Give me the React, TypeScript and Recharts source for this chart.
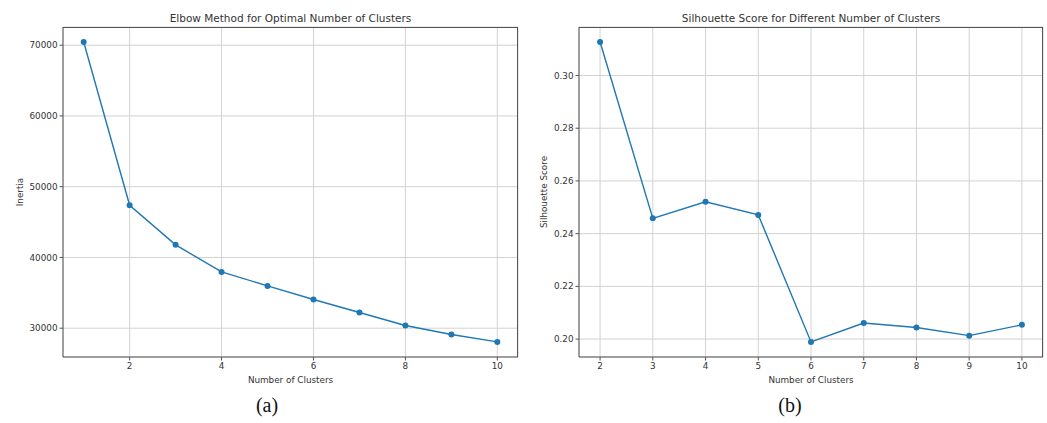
import { CartesianGrid, Line, LineChart, XAxis, YAxis } from 'recharts'

const elbowK = [1, 2, 3, 4, 5, 6, 7, 8, 9, 10]
const inertia = [70450, 47370, 41780, 37960, 35980, 34060, 32220, 30380, 29110, 28060]
const elbowXTicks = [2, 4, 6, 8, 10]
const elbowYTicks = [30000, 40000, 50000, 60000, 70000]

const silK = [2, 3, 4, 5, 6, 7, 8, 9, 10]
const silhouette = [0.3127, 0.2458, 0.2521, 0.2471, 0.1989, 0.2061, 0.2044, 0.2013, 0.2054]
const silXTicks = [2, 3, 4, 5, 6, 7, 8, 9, 10]
const silYTicks = [0.2, 0.22, 0.24, 0.26, 0.28, 0.3]

const blue = '#1f77b4'
const ink = '#333333'
const spine = '#555555'
const sans = '"DejaVu Sans", sans-serif'
const tickStyle = { fontSize: 8.8, fill: ink, fontFamily: sans }

interface PanelProps {
  left: number
  width: number
  plotLeft: number
  plotRight: number
  data: { k: number; v: number }[]
  xDomain: [number, number]
  yDomain: [number, number]
  xTicks: number[]
  yTicks: number[]
  yFormat?: (v: number) => string
  title: string
  yLabel: string
  yLabelX: number
  caption: string
  captionX: number
}

function Panel(p: PanelProps) {
  const top = 27
  const bottom = 357
  const plotCenter = (p.plotLeft + p.plotRight) / 2
  return (
    <>
      <div style={{ position: 'absolute', left: p.left, top: 0 }}>
        <LineChart
          width={p.width}
          height={423}
          data={p.data}
          margin={{ top, right: p.width - (p.plotRight - p.left), left: 0, bottom: 423 - bottom - 30 }}
        >
          <CartesianGrid stroke="#d2d2d2" strokeWidth={1} />
          <XAxis
            dataKey="k"
            type="number"
            domain={p.xDomain}
            ticks={p.xTicks}
            allowDataOverflow
            height={30}
            tick={tickStyle}
            tickSize={3.5}
            tickLine={{ stroke: spine }}
            axisLine={{ stroke: spine }}
          />
          <YAxis
            type="number"
            domain={p.yDomain}
            ticks={p.yTicks}
            allowDataOverflow
            width={p.plotLeft - p.left}
            tick={tickStyle}
            tickSize={3.5}
            tickFormatter={p.yFormat}
            tickLine={{ stroke: spine }}
            axisLine={{ stroke: spine }}
          />
          <Line
            dataKey="v"
            stroke={blue}
            strokeWidth={1.4}
            dot={{ r: 3, fill: blue, stroke: blue, strokeWidth: 0 }}
            isAnimationActive={false}
          />
        </LineChart>
      </div>
      {/* top and right spines of the axes box */}
      <div
        style={{
          position: 'absolute',
          left: p.plotLeft,
          top: top,
          width: p.plotRight - p.plotLeft,
          height: bottom - top,
          borderTop: `1px solid ${spine}`,
          borderRight: `1px solid ${spine}`,
          boxSizing: 'border-box',
          pointerEvents: 'none',
        }}
      />
      <div style={{ position: 'absolute', left: plotCenter, top: 18, transform: 'translate(-50%, -50%)', fontFamily: sans, fontSize: 10.5, color: ink, whiteSpace: 'nowrap' }}>
        {p.title}
      </div>
      <div style={{ position: 'absolute', left: plotCenter, top: 380, transform: 'translate(-50%, -50%)', fontFamily: sans, fontSize: 8.8, color: ink, whiteSpace: 'nowrap' }}>
        Number of Clusters
      </div>
      <div style={{ position: 'absolute', left: p.yLabelX, top: (top + bottom) / 2, transform: 'translate(-50%, -50%) rotate(-90deg)', fontFamily: sans, fontSize: 8.8, color: ink, whiteSpace: 'nowrap' }}>
        {p.yLabel}
      </div>
      <div style={{ position: 'absolute', left: p.captionX, top: 405, transform: 'translate(-50%, -50%)', fontFamily: '"Liberation Serif", serif', fontSize: 20, color: '#111', whiteSpace: 'nowrap' }}>
        {p.caption}
      </div>
    </>
  )
}

export default function App() {
  const elbowData = elbowK.map((k, i) => ({ k, v: inertia[i] }))
  const silData = silK.map((k, i) => ({ k, v: silhouette[i] }))
  return (
    <div style={{ position: 'absolute', left: 0, top: 0, width: 1047, height: 423, background: '#fff', overflow: 'hidden' }}>
      <Panel
        left={0}
        width={530}
        plotLeft={63}
        plotRight={518}
        data={elbowData}
        xDomain={[0.55, 10.45]}
        yDomain={[25930, 72570]}
        xTicks={elbowXTicks}
        yTicks={elbowYTicks}
        title="Elbow Method for Optimal Number of Clusters"
        yLabel="Inertia"
        yLabelX={20}
        caption="(a)"
        captionX={267}
      />
      <Panel
        left={530}
        width={517}
        plotLeft={579}
        plotRight={1043}
        data={silData}
        xDomain={[1.6, 10.4]}
        yDomain={[0.1932, 0.3184]}
        xTicks={silXTicks}
        yTicks={silYTicks}
        yFormat={(v: number) => v.toFixed(2)}
        title="Silhouette Score for Different Number of Clusters"
        yLabel="Silhouette Score"
        yLabelX={544}
        caption="(b)"
        captionX={790}
      />
    </div>
  )
}
